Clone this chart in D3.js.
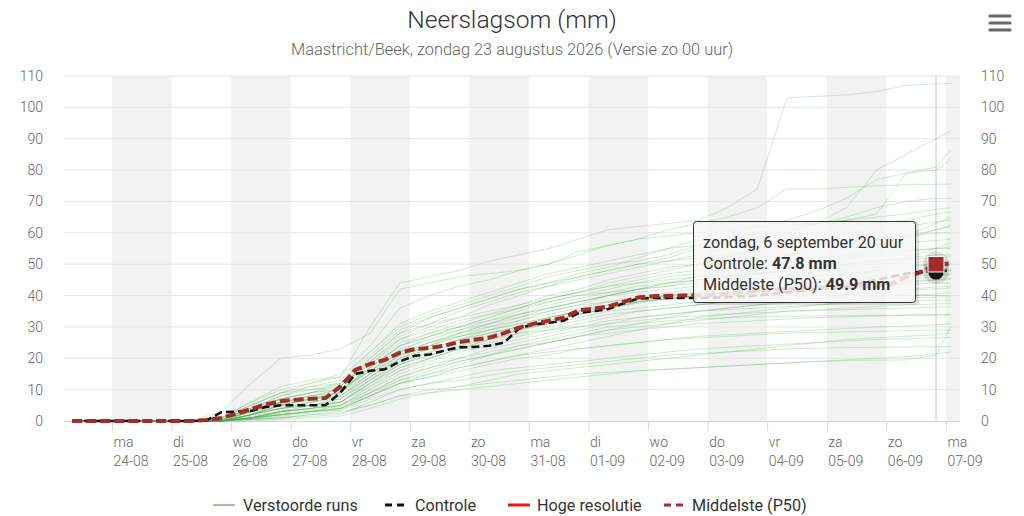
<!DOCTYPE html>
<html><head><meta charset="utf-8">
<script src="https://cdn.jsdelivr.net/npm/d3@7"></script>
<style>
body{margin:0;background:#fff;}
svg{display:block;font-family:Roboto,"Noto Sans",sans-serif;}
</style>
</head><body>
<svg id="chart" width="1024" height="516"></svg>
<script>
// ---------------- DATA ----------------
const titleText = "Neerslagsom (mm)";
const subtitleText = "Maastricht/Beek, zondag 23 augustus 2026 (Versie zo 00 uur)";
const weekdayAbbr = ["zo","ma","di","wo","do","vr","za"];
const yTicks = [0,10,20,30,40,50,60,70,80,90,100,110];
const axisStart = "2026-08-23T04:40", axisEnd = "2026-09-07T05:40";
const firstDay = "2026-08-24", lastDay = "2026-09-07";

// ensemble ("Verstoorde runs") sample times
const ensTimes = ["2026-08-23T08","2026-08-25T08","2026-08-25T20","2026-08-26T08","2026-08-26T20",
"2026-08-27T08","2026-08-27T20","2026-08-28T08","2026-08-28T20","2026-08-29T08","2026-08-29T20",
"2026-08-30T08","2026-08-30T20","2026-08-31T08","2026-08-31T20","2026-09-01T08","2026-09-01T20",
"2026-09-02T08","2026-09-02T20","2026-09-03T08","2026-09-03T20","2026-09-04T08","2026-09-04T20",
"2026-09-05T08","2026-09-05T20","2026-09-06T08","2026-09-06T20","2026-09-07T02"];

const ensMembers = [
[0,0,1,6,10,12,14,30,44,46,48,51,53,55,58,61,62,63,64,68,74,103,103.5,104,105,107,107.5,107.6],
[0,0,0,3,5,7,9,18,26,30,33,37,40,43,45,47,49,51,53,55,58,60,63,68,80,85,90,92.5],
[0,0,0.5,4,8,11,13,22,30,34,37,40,43,46,48,50,51,53,56,58,60,62,63,64,66,79,81,86.4],
[0,0,0,2,6,8,10,20,28,33,36,39,42,44,47,49,52,55,58,60,62,64,67,71,77,79,80,83.5],
[0,0,1,5,9,12,15,24,36,40,43,45,48,50,54,56,58,61,63,65,68,74,74,74.5,75,75.3,75.5,75.5],
[0,0,0,3,7,9,12,19,27,31,35,38,41,43,46,48,50,52,55,57,59,61,63,65,68,70,71,71],
[0,0,3,12,20,21,23,28,42,44,46,47,48,50,53,56,58,59,60,61,62,62.5,63,64,65,66,67.5,68],
[0,0,0,2,4,6,8,15,22,27,30,33,36,39,41,44,46,48,50,52,55,58,60,62,63,64,66,66.7],
[0,0,1,6,11,13,14,22,31,35,38,41,44,47,49,51,53,55,56,57,58,59,59.5,60,61,62,63.5,64],
[0,0,0,1,3,5,7,14,21,24,27,30,33,36,38,40,42,44,46,48,51,53,55,57,58,59,61,62],
[0,0,0.5,4,8,10,12,21,29,33,36,39,42,44,46,48,50,51,52,53,54,55,56,57,58,59,60,60],
[0,0,0,2,5,7,9,17,24,28,31,34,37,40,42,45,47,49,50,51,52,53,54,55,56,57,57.5,58],
[0,0,0,3,6,8,10,16,23,26,29,32,35,38,40,42,44,46,47,48,49,50,51,52,53,54,55,55],
[0,0,1,5,9,11,12,18,25,28,30,32,34,36,38,40,42,43,45,46,47,48,49,50,51,52,53,53],
[0,0,0,1,3,4,6,12,18,22,26,29,32,35,37,40,42,44,45,46,47,48,49,49.5,50,50.5,51,51],
[0,0,0,2,4,6,8,14,20,23,26,28,30,33,35,37,39,41,42,43,44,45,46,47,48,49,50,50],
[0,0,0.5,3,7,9,11,19,26,29,32,34,36,38,40,41,42,43,44,45,45.5,46,46.5,47,47.5,48,48.5,48.5],
[0,0,0,1,2,3,5,10,16,20,23,26,29,31,34,36,38,39,40,41,42,43,44,45,45.5,46,46.6,47],
[0,0,0,2,5,7,8,15,21,24,27,29,31,33,35,36,38,39,40,41,41.5,42,42.5,43,43.5,44,45,45],
[0,0,0,4,7,9,10,16,22,25,28,30,32,34,36,38,39.5,40,40.5,41,41.5,42,42.5,43,43.2,43.5,44,44],
[0,0,0,1,3,5,6,12,17,20,23,25,27,29,31,33,35,36,37,38,39,39.5,40,40.5,41,41.5,42.2,42.4],
[0,0,0.5,3,6,7,8,14,20,23,26,28,30,32,34,36,37.5,39,39.5,40,40,40,40,40,40,40,40,40],
[0,0,0,2,4,5,6,11,16,19,22,24,26,28,30,32,33,34,35,36,37,37.5,38,38.5,39,39.2,39.5,39.6],
[0,0,0,1,2,3,4,9,14,17,20,23,25,27,29,31,33,34,35,35.5,36,36.5,37,37.5,38,38.2,38.5,38.5],
[0,0,0,2,5,6,7,13,18,21,24,26,28,29,30,31,32,33,33.5,34,34.5,35,35.2,35.5,35.8,36,36.3,36.4],
[0,0,0,1,3,4,5,10,15,18,20,22,24,25,27,28,29,30,31,31.5,32,32.5,33,33.2,33.5,33.7,33.9,34],
[0,0,0,0.5,2,3,4,8,12,15,18,21,24,26,28,30,31,32,32.5,33,33.2,33.4,33.5,33.6,33.7,33.8,33.8,33.8],
[0,0,0,1,2,3,4,8,12,14,16,18,20,21,23,24,25,26,27,27.5,28,28.5,29,29.5,30,30.3,30.7,31],
[0,0,0,0.5,1,2,3,5,8,10,11,12,13,14,15,15.5,16,16.5,17,17.5,18,18.5,19,19.2,19.4,19.5,21,30],
[0,0,0,1.5,3,4,5,9,13,15,17,19,21,22,23,24,25,26,26.5,27,27.5,28,28.2,28.4,28.6,28.8,29,29],
[0,0,0,0.5,1,1.5,2,6,10,12,14,16,17,18,19,20,21,22,23,23.5,24,24.5,25,25.5,26,26.2,26.5,26.6],
[0,0,0,1,2,3,3.5,7,10,12,13,14.5,16,17,18,19,20,21,21.5,22,22.5,23,23.2,23.4,23.5,23.6,23.7,23.7],
[0,0,0,0.5,1,2,2.5,5,8,9,10,11,12,13,14,15,16,16.5,17,17.5,18,18.5,19,19.5,20,20.5,21.5,22],
[0,0,0,2,4,5,7,13,19,22,25,28,30,32,34,36,38,40,41,42,43,44,45,46,48,52,55,57],
[0,0,0,1,3,4,5,11,17,20,23,26,28,30,32,34,35,36,37,38,40,44,48,52,56,59,63,65],
[0,0,1,5,9,10,11,20,28,31,33,35,37,39,41,43,44,45,46,46.5,47,47.5,48,48.5,49,49.5,50,50],
[0,0,0,2,4,5,6,12,18,21,24,27,29,31,33,35,36,37,38,39,40,41,42,43,44,45,46.2,46.6],
[0,0,0,0.5,1.5,2.5,3.5,8,12,14,17,19,21,23,25,27,29,31,33,34,35,36,37,38,39,40,40.5,41],
[0,0,0,3,6,8,9,17,24,27,29,31,33,35,37,38,39,40,41,42,43,44,45,45.5,46,47,47.8,48],
[0,0,0,1,2.5,3.5,4.5,9,14,17,19,21,23,25,27,29,31,33,35,36,37,38,39,40,41,42,42.7,43],
[0,0,0.5,4,7,9,10,17,24,27,30,33,36,39,41,43,45,47,48,49,50,51,52,53,54,54.5,55,55.5],
[0,0,0,1,2,3,4,8,13,16,19,21,23,25,27,29,30,31,32,33,34,35,35.5,36,36.5,37,37.3,37.5],
[0,0,0,2,5,7,9,15,21,25,28,31,34,36,38,40,41,42,43,44,45,46,48,51,55,58,61,62.5],
[0,0,0,0,0.5,1,1.5,4,7,9,11,13,15,16,17,18,19,20,21,22,23,24,25,26,26.5,27,27.5,28],
[0,0,0.5,3,6,7.5,9,16,22,25,27,29,31,33,35,37,38,39,40,41,42,42.5,43,43.5,44,44.5,45,45.5],
[0,0,0,1,3,4,6,13,20,24,28,31,34,37,39,41,43,44,45,46,47,48,49,50,51,51.5,52,52.5]
];

// deterministic series: 6-hourly from 23-08 08 uur
const detStart = "2026-08-23T08", detStepHours = 6;
const controleValues = [0,0,0,0,0,0,0,0,0,0.1,2.8,3,3.2,4.5,5,5,5,5,9,15,
16,16.5,19,20.8,21.2,22.5,23.5,23.6,24,25,29.5,30.8,31.3,32,34.4,35,35.7,37.5,39,39.2,
39.2,39.2,39.2,39.3,39.5,39.8,40,40.5,41,41.5,42,42.5,43,44,45,46,47,47.6,47.8,48];
const p50Values = [0,0,0,0,0,0,0,0,0,0.3,1,2.3,3.8,5.3,6.3,6.8,7.1,7.3,11,16.3,
18.2,19.5,21.8,22.9,23.3,24,25.2,25.9,26.6,28,29.8,31,32,33,35.3,35.8,36.5,38,39.4,39.8,
39.9,40,40,40.2,40.5,41,41.5,41.8,42,42.2,42.4,42.6,42.7,42.9,43.1,43.6,46,47.5,49.9,50.2];
const hogeResolutieValues = [];

const legendNames = ["Verstoorde runs","Controle","Hoge resolutie","Middelste (P50)"];
const hoverTime = "2026-09-06T20";
const tooltipTitle = "zondag, 6 september 20 uur";

// ---------------- CHART ----------------
const parse = d3.utcParse("%Y-%m-%dT%H");
const parseM = d3.utcParse("%Y-%m-%dT%H:%M");
const parseD = d3.utcParse("%Y-%m-%d");
const svg = d3.select("#chart");
const L = 64, R = 960, T = 76, B = 421;

const x = d3.scaleUtc().domain([parseM(axisStart), parseM(axisEnd)]).range([L, R]);
const y = d3.scaleLinear().domain([0, 110]).range([B, T]);

const days = d3.utcDay.range(parseD(firstDay), d3.utcDay.offset(parseD(lastDay), 1));

svg.append("clipPath").attr("id","clip").append("rect")
  .attr("x", L).attr("y", T - 10).attr("width", R - L).attr("height", B - T + 20);

// alternating day bands
svg.append("g").selectAll("rect").data(days.filter((d,i) => i % 2 === 0)).join("rect")
  .attr("x", d => x(d))
  .attr("y", T)
  .attr("width", d => Math.min(x(d3.utcDay.offset(d,1)), R) - x(d))
  .attr("height", B - T)
  .attr("fill", "#f2f2f2");

// horizontal grid
svg.append("g").selectAll("line").data(yTicks.filter(v => v > 0)).join("line")
  .attr("x1", L).attr("x2", R)
  .attr("y1", d => y(d)).attr("y2", d => y(d))
  .attr("stroke", "#e6e6e6").attr("stroke-width", 1);

// y labels left and right
const yl = svg.append("g").attr("font-size", 14).attr("fill", "#666").attr("font-weight", 300);
yl.selectAll("text.l").data(yTicks).join("text").attr("class","l")
  .attr("x", 43).attr("y", d => y(d) + 5).attr("text-anchor","end").text(d => d);
yl.selectAll("text.r").data(yTicks).join("text").attr("class","r")
  .attr("x", 981).attr("y", d => y(d) + 5).attr("text-anchor","start").text(d => d);

// x axis
const xAxis = d3.axisBottom(x).tickValues(days).tickSize(10).tickSizeOuter(0).tickFormat("");
const xg = svg.append("g").attr("transform", `translate(0,${B})`).call(xAxis);
xg.select(".domain").attr("stroke", "#ccd6eb").attr("d", `M${L},0.5H${R}`);
xg.selectAll(".tick line").attr("stroke", "#ccd6eb");
const fmtDM = d3.utcFormat("%d-%m");
const xl = svg.append("g").attr("font-size", 14).attr("fill", "#666").attr("font-weight", 300);
days.forEach(d => {
  const t = xl.append("text").attr("x", x(d) + 1.5).attr("y", 447);
  t.append("tspan").attr("x", x(d) + 1.5).text(weekdayAbbr[d.getUTCDay()]);
  t.append("tspan").attr("x", x(d) + 1.5).attr("dy", 19).text(fmtDM(d));
});

// crosshair
const hx = x(parse(hoverTime));
svg.append("line").attr("x1", hx).attr("x2", hx).attr("y1", T).attr("y2", B)
  .attr("stroke", "#c8c8c8").attr("stroke-width", 1);

// series
const plot = svg.append("g").attr("clip-path", "url(#clip)");
const ensT = ensTimes.map(parse);
const line = d3.line().x(d => x(d[0])).y(d => y(d[1]));
plot.append("g").selectAll("path").data(ensMembers).join("path")
  .attr("d", m => line(m.map((v,i) => [ensT[i], v])))
  .attr("fill", "none").attr("stroke", "rgb(70,170,70)").attr("stroke-opacity", 0.25)
  .attr("stroke-width", 1);

const detT0 = parse(detStart);
const detPts = vals => vals.map((v,i) => [d3.utcHour.offset(detT0, i * detStepHours), v]);
if (hogeResolutieValues.length)
  plot.append("path").attr("d", line(detPts(hogeResolutieValues))).attr("fill","none")
    .attr("stroke","#e41a1c").attr("stroke-width",3);
plot.append("path").attr("d", line(detPts(controleValues))).attr("fill","none")
  .attr("stroke","#111").attr("stroke-width",2.6).attr("stroke-dasharray","8,4");
plot.append("path").attr("d", line(detPts(p50Values))).attr("fill","none")
  .attr("stroke","#a52a2a").attr("stroke-width",4).attr("stroke-dasharray","10,4");

// hover markers
const hIdx = Math.round((parse(hoverTime) - detT0) / 36e5 / detStepHours);
const cY = y(controleValues[hIdx]), pY = y(p50Values[hIdx]);
svg.append("circle").attr("cx", hx).attr("cy", cY).attr("r", 13).attr("fill", "#555").attr("fill-opacity", 0.22);
svg.append("circle").attr("cx", hx).attr("cy", pY).attr("r", 13).attr("fill", "#555").attr("fill-opacity", 0.18);
svg.append("circle").attr("cx", hx).attr("cy", cY + 1).attr("r", 7.5).attr("fill", "#111");
svg.append("rect").attr("x", hx - 8).attr("y", pY - 8).attr("width", 16).attr("height", 15.5)
  .attr("fill", "#a52a2a").attr("stroke", "#fff").attr("stroke-width", 1);

// tooltip
const tt = svg.append("g").attr("transform", "translate(693,221)");
tt.append("rect").attr("x", 1.5).attr("y", 1.5).attr("width", 223).attr("height", 81).attr("rx", 3)
  .attr("fill", "none").attr("stroke", "rgba(0,0,0,0.12)").attr("stroke-width", 3);
tt.append("rect").attr("x", 0.5).attr("y", 0.5).attr("width", 222).attr("height", 81).attr("rx", 3)
  .attr("fill", "rgba(247,247,247,0.85)").attr("stroke", "#333").attr("stroke-width", 1);
const ttText = tt.append("text").attr("font-size", 16.2).attr("fill", "#333").attr("x", 10).attr("y", 26.5);
ttText.append("tspan").attr("x", 10).text(tooltipTitle);
ttText.append("tspan").attr("x", 10).attr("dy", 21).text(legendNames[1] + ": ");
ttText.append("tspan").attr("font-weight", "bold").text(controleValues[hIdx].toFixed(1) + " mm");
ttText.append("tspan").attr("x", 10).attr("dy", 21).text(legendNames[3] + ": ");
ttText.append("tspan").attr("font-weight", "bold").text(p50Values[hIdx].toFixed(1) + " mm");

// title
svg.append("text").attr("x", 512).attr("y", 28).attr("text-anchor", "middle")
  .attr("font-size", 24.6).attr("font-weight", 300).attr("fill", "#333").text(titleText);
svg.append("text").attr("x", 512).attr("y", 55).attr("text-anchor", "middle")
  .attr("font-size", 16.4).attr("font-weight", 300).attr("fill", "#666").text(subtitleText);

// hamburger
svg.append("g").selectAll("line").data([16, 23, 30]).join("line")
  .attr("x1", 990).attr("x2", 1010).attr("y1", d => d).attr("y2", d => d)
  .attr("stroke", "#666").attr("stroke-width", 3.2).attr("stroke-linecap", "round");

// legend
const lg = svg.append("g").attr("font-size", 16.2).attr("fill", "#333");
const legendItems = [
  {name: legendNames[0], sx: 213, len: 22, tx: 243, stroke: "#8fc98f", w: 2, dash: null},
  {name: legendNames[1], sx: 385, len: 19, tx: 415, stroke: "#111", w: 3, dash: "7,5"},
  {name: legendNames[2], sx: 508, len: 22, tx: 537, stroke: "#e41a1c", w: 3, dash: null},
  {name: legendNames[3], sx: 664, len: 19, tx: 692, stroke: "#a52a2a", w: 3, dash: "7,5"}
];
legendItems.forEach(it => {
  lg.append("line").attr("x1", it.sx).attr("x2", it.sx + it.len).attr("y1", 505).attr("y2", 505)
    .attr("stroke", it.stroke).attr("stroke-width", it.w).attr("stroke-dasharray", it.dash);
  lg.append("text").attr("x", it.tx).attr("y", 510.5).text(it.name);
});
</script>
</body></html>
